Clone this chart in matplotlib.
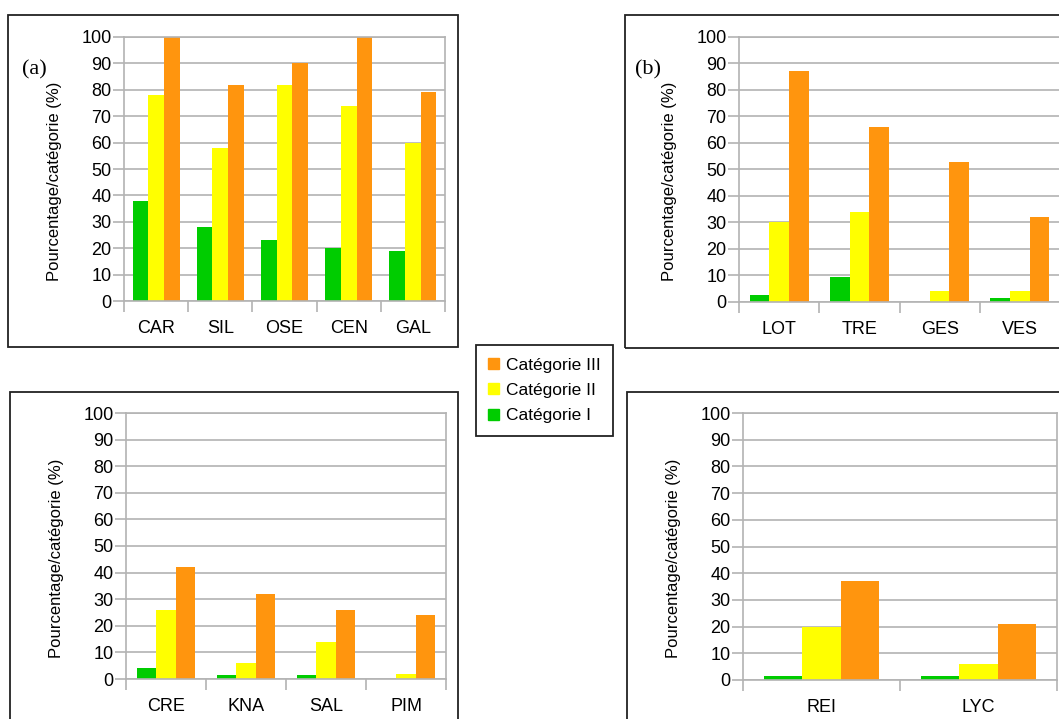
import numpy as np
import matplotlib
matplotlib.use('Agg')
import matplotlib.pyplot as plt
from matplotlib.patches import Rectangle, Patch

## values (% per category)
cats_a = ['CAR', 'SIL', 'OSE', 'CEN', 'GAL']
cat1_a = [38, 28, 23, 20, 19]
cat2_a = [78, 58, 82, 74, 60]
cat3_a = [100, 82, 90, 100, 79]

cats_b = ['LOT', 'TRE', 'GES', 'VES']
cat1_b = [2.6, 9.4, 0, 1.4]
cat2_b = [30, 34, 4, 4]
cat3_b = [87, 66, 53, 32]

cats_c = ['CRE', 'KNA', 'SAL', 'PIM']
cat1_c = [4, 1.5, 1.5, 0]
cat2_c = [26, 6, 14, 2]
cat3_c = [42, 32, 26, 24]

cats_d = ['REI', 'LYC']
cat1_d = [1.5, 1.5]
cat2_d = [20, 6]
cat3_d = [37, 21]

legend_names = ['Catégorie III', 'Catégorie II', 'Catégorie I']

green = '#00cc00'
yellow = '#ffff00'
orange = '#ff950e'
grid_c = '#b3b3b3'

plt.rcParams['font.family'] = ['Liberation Sans', 'DejaVu Sans']

W, H = 1059, 719
fig = plt.figure(figsize=(W/100., H/100.), dpi=100)

def px_rect(x0, y0, x1, y1):
    # pixel box (top-left origin) -> figure fraction [l, b, w, h]
    return [x0/W, 1 - y1/H, (x1-x0)/W, (y1-y0)/H]

def draw_panel(box, cats, v1, v2, v3):
    ax = fig.add_axes(px_rect(*box))
    n = len(cats)
    x = np.arange(n) + 0.5
    w = 0.245
    ax.bar(x - w, v1, w, color=green)
    ax.bar(x, v2, w, color=yellow)
    ax.bar(x + w, v3, w, color=orange)
    ax.set_xlim(0, n)
    ax.set_ylim(0, 100)
    ax.set_yticks(np.arange(0, 101, 10))
    ax.set_xticks(x)
    ax.set_xticklabels(cats, fontsize=13)
    ax.set_xticks(np.arange(n+1), minor=True)
    ax.tick_params(axis='x', which='major', length=0, pad=14)
    ax.tick_params(axis='x', which='minor', length=8, color=grid_c, width=1.2)
    ax.tick_params(axis='y', length=8, color=grid_c, width=1.2, labelsize=13, pad=1)
    ax.yaxis.grid(True, color=grid_c, linewidth=1.2)
    ax.set_axisbelow(True)
    for s in ax.spines.values():
        s.set_color(grid_c)
        s.set_linewidth(1.2)
    ax.set_ylabel('Pourcentage/catégorie (%)', fontsize=12)
    axw = box[2] - box[0]
    ax.yaxis.set_label_coords(-62./axw, 0.455)
    return ax

ax_a = draw_panel((124, 37, 445, 301), cats_a, cat1_a, cat2_a, cat3_a)
ax_b = draw_panel((739, 37, 1060, 302), cats_b, cat1_b, cat2_b, cat3_b)
ax_c = draw_panel((126, 413, 446, 679), cats_c, cat1_c, cat2_c, cat3_c)
ax_d = draw_panel((743, 413, 1057, 680), cats_d, cat1_d, cat2_d, cat3_d)

# outer frames round each chart
for (x0, y0, x1, y1) in [(8, 15, 458, 347), (625, 15, 1080, 348),
                         (10, 392, 458, 740), (627, 392, 1080, 740)]:
    fig.patches.append(Rectangle((x0/W, 1-y1/H), (x1-x0)/W, (y1-y0)/H,
                                 transform=fig.transFigure, fill=False,
                                 edgecolor='#222222', linewidth=1.3))

fig.text(34/W, 1-70/H, '(a)', family='Liberation Serif', fontsize=16,
         ha='center', va='center')
fig.text(648/W, 1-70/H, '(b)', family='Liberation Serif', fontsize=16,
         ha='center', va='center')

handles = [Patch(color=orange), Patch(color=yellow), Patch(color=green)]
leg = fig.legend(handles, legend_names, loc='center',
                 bbox_to_anchor=(544.5/W, 1-390.5/H), fontsize=12.5,
                 frameon=True, fancybox=False, framealpha=1,
                 handlelength=0.6, handleheight=0.6, handletextpad=0.4,
                 labelspacing=0.6, borderpad=0.7, borderaxespad=0)
leg.get_frame().set_edgecolor('#222222')
leg.get_frame().set_linewidth(1.3)

plt.savefig('out.png', dpi=100)
